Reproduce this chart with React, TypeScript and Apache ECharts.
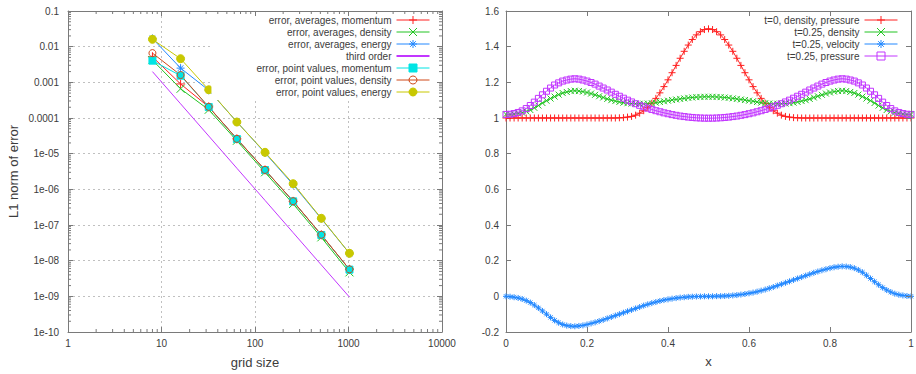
import React, { useEffect, useRef } from 'react';
import * as echarts from 'echarts';

// ---------- Left chart: convergence ----------
const gridSizes = [8, 16, 32, 64, 128, 256, 512, 1024];
const avgMomentum = [5.2e-3, 9.0e-4, 2.05e-4, 2.6e-5, 3.5e-6, 4.6e-7, 5.3e-8, 5.7e-9];
const avgDensity = [4.2e-3, 6.6e-4, 1.7e-4, 2.3e-5, 3.0e-6, 3.9e-7, 4.5e-8, 4.7e-9];
const avgEnergy = [1.7e-2, 2.5e-3, 6.0e-4, 7.8e-5, 1.05e-5, 1.35e-6, 1.5e-7, 1.6e-8];
const thirdOrder = [2.0e-3, 2.5e-4, 3.13e-5, 3.9e-6, 4.9e-7, 6.1e-8, 7.6e-9, 9.5e-10];
const ptMomentum = [4.05e-3, 1.54e-3, 2.03e-4, 2.58e-5, 3.48e-6, 4.6e-7, 5.25e-8, 5.6e-9];
const ptDensity = [6.6e-3, 1.6e-3, 2.05e-4, 2.6e-5, 3.5e-6, 4.65e-7, 5.3e-8, 5.7e-9];
const ptEnergy = [1.61e-2, 4.6e-3, 6.2e-4, 7.7e-5, 1.09e-5, 1.44e-6, 1.54e-7, 1.61e-8];

const xTickLabels = ['1', '10', '100', '1000', '10000'];
const yTickLabels = ['0.1', '0.01', '0.001', '0.0001', '1e-05', '1e-06', '1e-07', '1e-08', '1e-09', '1e-10'];

// ---------- Right chart: profiles ----------
const densityT0 = [
  1, 1, 1, 1, 1, 1, 1, 1, 1, 1,
  1, 1, 1, 1, 1, 1, 1, 1, 1, 1,
  1, 1, 1, 1, 1, 1, 1, 1.000, 1.001, 1.002,
  1.005, 1.009, 1.016, 1.027, 1.041, 1.060, 1.083, 1.110, 1.141, 1.176,
  1.214, 1.254, 1.295, 1.335, 1.374, 1.409, 1.440, 1.466, 1.484, 1.496,
  1.500, 1.496, 1.484, 1.466, 1.440, 1.409, 1.374, 1.335, 1.295, 1.254,
  1.214, 1.176, 1.141, 1.110, 1.083, 1.060, 1.041, 1.027, 1.016, 1.009,
  1.005, 1.002, 1.001, 1.000, 1, 1, 1, 1, 1, 1,
  1, 1, 1, 1, 1, 1, 1, 1, 1, 1,
  1, 1, 1, 1, 1, 1, 1, 1, 1, 1,
  1,
];
const densityT025 = [
  1.020, 1.020, 1.022, 1.025, 1.030, 1.037, 1.045, 1.057, 1.070, 1.084,
  1.097, 1.109, 1.120, 1.131, 1.140, 1.146, 1.151, 1.153, 1.151, 1.148,
  1.143, 1.137, 1.130, 1.122, 1.115, 1.107, 1.100, 1.095, 1.090, 1.086,
  1.083, 1.081, 1.080, 1.080, 1.080, 1.081, 1.083, 1.086, 1.090, 1.094,
  1.097, 1.101, 1.104, 1.107, 1.110, 1.113, 1.115, 1.117, 1.118, 1.119,
  1.119,
  1.119, 1.118, 1.117, 1.115, 1.113, 1.110, 1.107, 1.104, 1.101, 1.097,
  1.094, 1.090, 1.086, 1.083, 1.081, 1.080, 1.080, 1.080, 1.081, 1.083,
  1.086, 1.090, 1.095, 1.100, 1.107, 1.115, 1.122, 1.130, 1.137, 1.143,
  1.148, 1.151, 1.153, 1.151, 1.146, 1.140, 1.131, 1.120, 1.109, 1.097,
  1.084, 1.070, 1.057, 1.045, 1.037, 1.030, 1.025, 1.022, 1.020, 1.020,
];
const velocityT025 = [
  0, -0.002, -0.005, -0.009, -0.015, -0.024, -0.035, -0.049, -0.065, -0.082,
  -0.100, -0.118, -0.135, -0.148, -0.158, -0.164, -0.167, -0.168, -0.166, -0.163,
  -0.158, -0.152, -0.146, -0.139, -0.132, -0.124, -0.116, -0.108, -0.100, -0.092,
  -0.084, -0.076, -0.068, -0.060, -0.052, -0.045, -0.038, -0.032, -0.026, -0.021,
  -0.017, -0.013, -0.010, -0.007, -0.005, -0.003, -0.002, -0.001, -0.001, 0,
  0,
  0, 0.001, 0.001, 0.002, 0.003, 0.005, 0.007, 0.010, 0.013, 0.017,
  0.021, 0.026, 0.032, 0.038, 0.045, 0.052, 0.060, 0.068, 0.076, 0.084,
  0.092, 0.100, 0.108, 0.116, 0.124, 0.132, 0.139, 0.146, 0.152, 0.158,
  0.163, 0.166, 0.168, 0.167, 0.164, 0.158, 0.148, 0.135, 0.118, 0.100,
  0.082, 0.065, 0.049, 0.035, 0.024, 0.015, 0.009, 0.005, 0.002, 0,
];
const pressureT025 = [
  1.020, 1.021, 1.025, 1.031, 1.040, 1.053, 1.070, 1.089, 1.110, 1.130,
  1.150, 1.168, 1.185, 1.197, 1.207, 1.213, 1.218, 1.220, 1.218, 1.213,
  1.207, 1.199, 1.190, 1.179, 1.168, 1.157, 1.145, 1.133, 1.122, 1.111,
  1.100, 1.090, 1.080, 1.071, 1.063, 1.055, 1.048, 1.041, 1.035, 1.029,
  1.024, 1.019, 1.015, 1.011, 1.008, 1.005, 1.003, 1.001, 1.000, 0.999,
  0.999,
  0.999, 1.000, 1.001, 1.003, 1.005, 1.008, 1.011, 1.015, 1.019, 1.024,
  1.029, 1.035, 1.041, 1.048, 1.055, 1.063, 1.071, 1.080, 1.090, 1.100,
  1.111, 1.122, 1.133, 1.145, 1.157, 1.168, 1.179, 1.190, 1.199, 1.207,
  1.213, 1.218, 1.220, 1.218, 1.213, 1.207, 1.197, 1.185, 1.168, 1.150,
  1.130, 1.110, 1.089, 1.070, 1.053, 1.040, 1.031, 1.025, 1.021, 1.020,
];
const xPositions = densityT0.map((_, i) => i / 100);

// ---------- styling ----------
const FONT = "'Liberation Sans', Arial, sans-serif";
const AXIS = '#7a7a7a';
const TEXT = '#3c3c3c';
const C = {
  red: '#ff2020',
  green: '#22c422',
  blue: '#2288ff',
  magenta: '#c236ff',
  cyan: '#00e4e4',
  brown: '#d04818',
  yellow: '#c8c800',
};
const PLUS = 'path://M5,0L5,10M0,5L10,5';
const CROSS = 'path://M0,0L10,10M10,0L0,10';
const STAR = 'path://M5,0L5,10M0,5L10,5M1.5,1.5L8.5,8.5M8.5,1.5L1.5,8.5';

const leftNames = [
  'error, averages, momentum',
  'error, averages, density',
  'error, averages, energy',
  'third order',
  'error, point values, momentum',
  'error, point values, density',
  'error, point values, energy',
];
const rightNames = ['t=0, density, pressure', 't=0.25, density', 't=0.25, velocity', 't=0.25, pressure'];

function leftSeries(name: string, vals: number[], color: string, symbol: string, size: number, fill: string) {
  return {
    name,
    type: 'line',
    xAxisIndex: 0,
    yAxisIndex: 0,
    data: gridSizes.map((g, i) => [g, vals[i]]),
    symbol,
    symbolSize: size,
    showSymbol: symbol !== 'none',
    showAllSymbol: true,
    color,
    lineStyle: { color, width: 1 },
    itemStyle: { color: fill, borderColor: color, borderWidth: 1 },
    emphasis: { disabled: true },
    z: 3,
  };
}

function rightSeries(name: string, vals: number[], color: string, symbol: string, size: number, fill: string) {
  return {
    name,
    type: 'line',
    xAxisIndex: 2,
    yAxisIndex: 2,
    data: xPositions.map((x, i) => [x, vals[i]]),
    symbol,
    symbolSize: size,
    showSymbol: true,
    showAllSymbol: true,
    color,
    lineStyle: { color, width: 1 },
    itemStyle: { color: fill, borderColor: color, borderWidth: 1 },
    emphasis: { disabled: true },
    z: 3,
  };
}

const xMinor: number[] = [];
for (let k = 0; k <= 3; k++) for (let m = 2; m <= 9; m++) xMinor.push(m * Math.pow(10, k));
const yMinor: number[] = [];
for (let k = -10; k <= -2; k++) for (let m = 2; m <= 9; m++) yMinor.push(m * Math.pow(10, k));

const MAJOR = 5;
const MINOR = 3;

const tickLine = (x1: number, y1: number, x2: number, y2: number) => ({
  type: 'line',
  shape: { x1, y1, x2, y2 },
  style: { stroke: AXIS, lineWidth: 1 },
});

const labelStyle = { fontSize: 10, color: TEXT, fontFamily: FONT };
const nameStyle = { fontSize: 13, color: TEXT, fontFamily: FONT };
const axisLine = { onZero: false, lineStyle: { color: AXIS, width: 1 } };
const axisTick = { inside: true, length: MAJOR, lineStyle: { color: AXIS } };

const legendCommon = {
  orient: 'vertical',
  align: 'right',
  itemWidth: 33,
  itemHeight: 10,
  itemGap: 0,
  selectedMode: false,
  itemStyle: { borderWidth: 1 },
  lineStyle: { width: 1 },
  textStyle: { ...labelStyle, lineHeight: 12 },
};

const option: any = {
  animation: false,
  backgroundColor: '#ffffff',
  grid: [
    { left: 68, top: 11, width: 374, height: 321, outerBoundsMode: 'none' },
    { left: 506, top: 11, width: 405, height: 321, outerBoundsMode: 'none' },
  ],
  xAxis: [
    {
      gridIndex: 0, type: 'log', logBase: 10, min: 1, max: 10000, position: 'bottom',
      axisLine, axisTick,
      axisLabel: { ...labelStyle, margin: 6, formatter: (v: number) => xTickLabels[Math.round(Math.log10(v))] },
      splitLine: { show: true, lineStyle: { color: '#c0c0c0', type: [2, 3], width: 1 } },
      name: 'grid size', nameLocation: 'middle', nameGap: 24, nameTextStyle: nameStyle,
    },
    {
      gridIndex: 0, type: 'log', logBase: 10, min: 1, max: 10000, position: 'top',
      axisLine, axisTick, axisLabel: { show: false }, splitLine: { show: false }, z: 6,
    },
    {
      gridIndex: 1, type: 'value', min: 0, max: 1, interval: 0.2, position: 'bottom',
      axisLine, axisTick,
      axisLabel: { ...labelStyle, margin: 6 },
      splitLine: { show: false },
      name: 'x', nameLocation: 'middle', nameGap: 23, nameTextStyle: nameStyle,
    },
    {
      gridIndex: 1, type: 'value', min: 0, max: 1, interval: 0.2, position: 'top',
      axisLine, axisTick, axisLabel: { show: false }, splitLine: { show: false }, z: 6,
    },
  ],
  yAxis: [
    {
      gridIndex: 0, type: 'log', logBase: 10, min: 1e-10, max: 0.1, position: 'left',
      axisLine, axisTick,
      axisLabel: { ...labelStyle, margin: 9, formatter: (v: number) => yTickLabels[-1 - Math.round(Math.log10(v))] },
      splitLine: { show: true, lineStyle: { color: '#c0c0c0', type: [2, 3], width: 1 } },
      name: 'L1 norm of error', nameLocation: 'middle', nameGap: 48, nameRotate: 90, nameTextStyle: nameStyle,
    },
    {
      gridIndex: 0, type: 'log', logBase: 10, min: 1e-10, max: 0.1, position: 'right',
      axisLine, axisTick, axisLabel: { show: false }, splitLine: { show: false }, z: 6,
    },
    {
      gridIndex: 1, type: 'value', min: -0.2, max: 1.6, interval: 0.2, position: 'left',
      axisLine, axisTick,
      axisLabel: { ...labelStyle, margin: 7 },
      splitLine: { show: false },
    },
    {
      gridIndex: 1, type: 'value', min: -0.2, max: 1.6, interval: 0.2, position: 'right',
      axisLine, axisTick, axisLabel: { show: false }, splitLine: { show: false }, z: 6,
    },
  ],
  legend: [
    {
      ...legendCommon,
      data: leftNames.map((n) =>
        n === 'third order'
          ? { name: n, icon: 'path://M0,0L33,0L33,2L0,2Z', itemStyle: { borderWidth: 0 } }
          : { name: n }
      ),
      right: 475,
      top: 12,
      padding: [2, 11, 2, 45],
      backgroundColor: '#ffffff',
    },
    {
      ...legendCommon,
      data: rightNames,
      right: 18,
      top: 14,
      padding: 0,
    },
  ],
  series: [
    {
      type: 'custom',
      xAxisIndex: 0,
      yAxisIndex: 0,
      silent: true,
      clip: false,
      z: 7,
      data: xMinor.map((v) => [v, 1e-10]),
      renderItem: (_p: any, api: any) => {
        const x = api.value(0);
        const b = api.coord([x, 1e-10]);
        const t = api.coord([x, 0.1]);
        return {
          type: 'group',
          children: [tickLine(b[0], b[1], b[0], b[1] - MINOR), tickLine(t[0], t[1], t[0], t[1] + MINOR)],
        };
      },
    },
    {
      type: 'custom',
      xAxisIndex: 0,
      yAxisIndex: 0,
      silent: true,
      clip: false,
      z: 7,
      data: yMinor.map((v) => [1, v]),
      renderItem: (_p: any, api: any) => {
        const y = api.value(1);
        const l = api.coord([1, y]);
        const r = api.coord([10000, y]);
        return {
          type: 'group',
          children: [tickLine(l[0], l[1], l[0] + MINOR, l[1]), tickLine(r[0], r[1], r[0] - MINOR, r[1])],
        };
      },
    },
    leftSeries(leftNames[0], avgMomentum, C.red, PLUS, 9, C.red),
    leftSeries(leftNames[1], avgDensity, C.green, CROSS, 8, C.green),
    leftSeries(leftNames[2], avgEnergy, C.blue, STAR, 8, C.blue),
    leftSeries(leftNames[3], thirdOrder, C.magenta, 'none', 0, C.magenta),
    leftSeries(leftNames[4], ptMomentum, C.cyan, 'rect', 7, C.cyan),
    leftSeries(leftNames[5], ptDensity, C.brown, 'circle', 7, 'rgba(0,0,0,0)'),
    leftSeries(leftNames[6], ptEnergy, C.yellow, 'circle', 8, C.yellow),
    rightSeries(rightNames[0], densityT0, C.red, PLUS, 7, C.red),
    rightSeries(rightNames[1], densityT025, C.green, CROSS, 6, C.green),
    rightSeries(rightNames[2], velocityT025, C.blue, STAR, 6, C.blue),
    rightSeries(rightNames[3], pressureT025, C.magenta, 'rect', 6, 'rgba(0,0,0,0)'),
  ],
};

export default function App() {
  const ref = useRef<HTMLDivElement>(null);
  useEffect(() => {
    const chart = echarts.init(ref.current as HTMLDivElement, null, { renderer: 'svg' });
    chart.setOption(option);
    return () => chart.dispose();
  }, []);
  return (
    <div
      ref={ref}
      style={{ position: 'fixed', left: 0, top: 0, width: 916, height: 374, background: '#fff' }}
    />
  );
}
